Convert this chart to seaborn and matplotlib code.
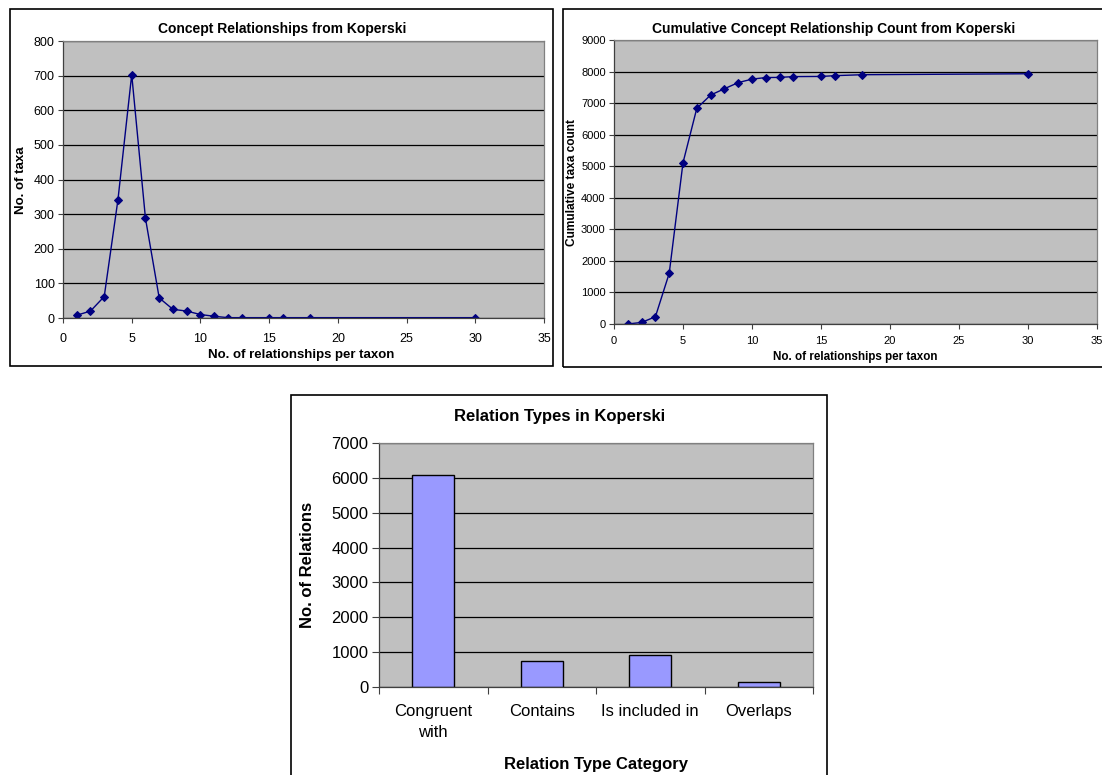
import matplotlib
matplotlib.use("Agg")
import matplotlib.pyplot as plt
from matplotlib.patches import Rectangle
from matplotlib.ticker import MultipleLocator, FixedLocator
import seaborn as sns

# Relationship counts per taxon
relationships_per_taxon = [1, 2, 3, 4, 5, 6, 7, 8, 9, 10, 11, 12, 13, 15, 16, 18, 30]
taxa_counts = [8, 20, 62, 342, 703, 288, 58, 25, 20, 10, 5, 1, 1, 1, 1, 1, 1]
cumulative_counts = [0, 50, 230, 1605, 5110, 6835, 7255, 7455, 7650, 7760, 7810, 7815,
                     7840, 7845, 7870, 7900, 7930]

# Relation type totals
relation_types = ["Congruent\nwith", "Contains", "Is included in", "Overlaps"]
relation_counts = [6070, 745, 920, 135]

W, H = 1102, 775
FONT = ["Liberation Sans", "Arial", "DejaVu Sans"]

sns.set_theme(style="white")
plt.rcParams["font.family"] = FONT

fig = plt.figure(figsize=(W / 100, H / 100), dpi=100)
fig.patch.set_facecolor("white")

PLOT_BG = "#C0C0C0"
NAVY = "#000080"
BAR = "#9999FF"


def px_axes(left, top, right, bottom):
    return fig.add_axes([left / W, 1 - bottom / H, (right - left) / W, (bottom - top) / H])


def px_text(x, y, s, size, rotation=0, weight="bold"):
    fig.text(x / W, 1 - y / H, s, ha="center", va="center", fontsize=size,
             rotation=rotation, fontweight=weight, color="black")


def frame(left, top, right, bottom):
    fig.patches.append(Rectangle((left / W, 1 - bottom / H), (right - left) / W,
                                 (bottom - top) / H, transform=fig.transFigure,
                                 fill=False, edgecolor="black", linewidth=1.2,
                                 zorder=0))


def style_axes(ax, tick_size, xpad):
    ax.set_facecolor(PLOT_BG)
    ax.set_axisbelow(True)
    ax.yaxis.grid(True, color="black", linewidth=0.9)
    ax.xaxis.grid(False)
    for side in ("top", "right"):
        ax.spines[side].set_color("#808080")
        ax.spines[side].set_linewidth(0.9)
    for side in ("left", "bottom"):
        ax.spines[side].set_color("#404040")
        ax.spines[side].set_linewidth(0.9)
    ax.tick_params(axis="both", which="both", direction="out", length=3.5, width=0.8,
                   color="#404040", labelsize=tick_size, labelcolor="black", pad=2.5,
                   left=True, bottom=True)
    ax.tick_params(axis="x", pad=xpad)
    ax.set_xlabel("")
    ax.set_ylabel("")


# Chart frames
frame(10, 9, 553, 366)
frame(563, 9, 1110, 367)
frame(291, 395, 827, 790)

# Distribution of relationships per taxon
ax1 = px_axes(63, 41, 544, 318)
sns.lineplot(x=relationships_per_taxon, y=taxa_counts, ax=ax1, color=NAVY,
             linewidth=1.0, marker="D", markersize=3.6, markeredgecolor=NAVY,
             markerfacecolor=NAVY)
ax1.set_xlim(0, 35)
ax1.set_ylim(0, 800)
ax1.xaxis.set_major_locator(MultipleLocator(5))
ax1.yaxis.set_major_locator(MultipleLocator(100))
style_axes(ax1, 9, 7.0)
px_text(282, 29, "Concept Relationships from Koperski", 10)
px_text(301, 355, "No. of relationships per taxon", 9.5)
px_text(21, 180, "No. of taxa", 9.5, rotation=90)

# Cumulative count
ax2 = px_axes(614, 40, 1097, 324)
sns.lineplot(x=relationships_per_taxon, y=cumulative_counts, ax=ax2, color=NAVY,
             linewidth=1.0, marker="D", markersize=3.6, markeredgecolor=NAVY,
             markerfacecolor=NAVY)
ax2.set_xlim(0, 35)
ax2.set_ylim(0, 9000)
ax2.xaxis.set_major_locator(MultipleLocator(5))
ax2.yaxis.set_major_locator(MultipleLocator(1000))
style_axes(ax2, 8, 5.5)
px_text(834, 29, "Cumulative Concept Relationship Count from Koperski", 10)
px_text(855, 357, "No. of relationships per taxon", 8.4)
px_text(572, 182, "Cumulative taxa count", 8.6, rotation=90)

# Relation types
ax3 = px_axes(379, 443, 813, 687)
sns.barplot(x=relation_types, y=relation_counts, ax=ax3, color=BAR, saturation=1,
            edgecolor="black", linewidth=1.0, width=0.39)
ax3.set_xlim(-0.5, len(relation_types) - 0.5)
ax3.set_ylim(0, 7000)
ax3.yaxis.set_major_locator(MultipleLocator(1000))
style_axes(ax3, 12, 2.5)
ax3.xaxis.set_minor_locator(FixedLocator([i - 0.5 for i in range(len(relation_types) + 1)]))
ax3.tick_params(axis="x", which="major", length=0, pad=12.5)
ax3.tick_params(axis="x", which="minor", length=5)
ax3.tick_params(axis="y", which="major", length=5)
for lbl in ax3.get_xticklabels():
    lbl.set_linespacing(1.45)
px_text(560, 417, "Relation Types in Koperski", 12)
px_text(596, 764, "Relation Type Category", 12)
px_text(308, 565, "No. of Relations", 12, rotation=90)

fig.savefig("out.png", dpi=100, facecolor="white")
